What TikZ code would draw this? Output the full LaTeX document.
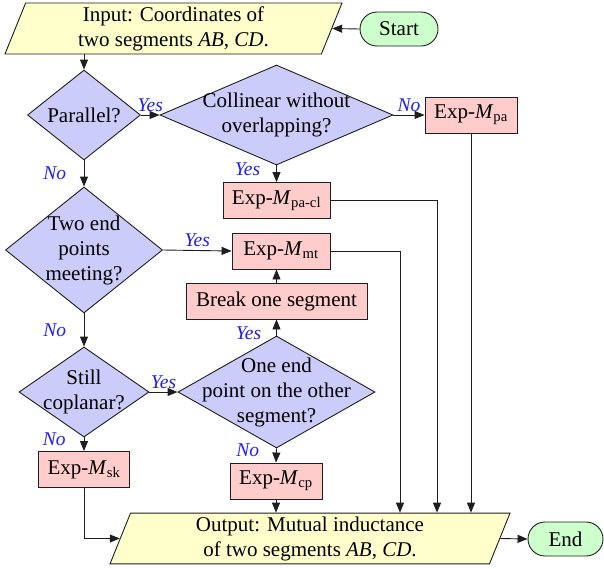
\documentclass[tikz,border=0pt]{standalone}
\usepackage{fontspec}
\setmainfont{Liberation Serif}
\usetikzlibrary{shapes.geometric,arrows.meta,positioning}
\definecolor{decisionfill}{RGB}{204,204,250}
\definecolor{processfill}{RGB}{255,204,204}
\definecolor{iofill}{RGB}{255,255,204}
\definecolor{termfill}{RGB}{204,255,204}
\definecolor{answercolor}{RGB}{30,30,255}
\definecolor{linecolor}{RGB}{30,30,30}
\def \boxheight {36pt}
\def \expM {Exp-\textit{M}}

\begin{document}
\begin{tikzpicture}[x=1pt, y=-1pt,
  font=\fontsize{21}{25}\selectfont,
  line width=0.9pt, draw=linecolor,
  decision/.style={diamond, draw, fill=decisionfill, inner sep=0pt},
  process/.style={rectangle, draw, fill=processfill, minimum height=\boxheight, inner xsep=4pt},
  io/.style={trapezium, trapezium left angle=68, trapezium right angle=112, trapezium stretches body, draw, fill=iofill, align=center, minimum height=49pt},
  terminal/.style={rectangle, rounded corners=17pt, draw, fill=termfill, minimum height=34pt},
  arr/.style={-{Triangle[length=10pt,width=8pt]}},
  answer/.style={font=\fontsize{19.5}{22}\selectfont\itshape, text=answercolor}]
\useasboundingbox (0,0) rectangle (604,568);

% Draw the input and output
\node[io, minimum width=337pt] (input) at (173.5,28.5) {Input: Coordinates of\\two segments \textit{AB}, \textit{CD}.};
\node[terminal, minimum width=78pt] (start) at (399,29) {Start};
\node[io, minimum width=400pt] (output) at (310,538.5) {Output: Mutual inductance\\of two segments \textit{AB}, \textit{CD}.};
\node[terminal, minimum width=75pt] (end) at (565.5,539) {End};

% Draw the questions
\node[decision, minimum width=113pt, minimum height=90pt, label={[align=center]center:Parallel?}] (parallel) at (84,115) {};
\node[decision, minimum width=233pt, minimum height=100pt, label={[align=center]center:Collinear without\\overlapping?}] (collinear) at (276.5,115) {};
\node[decision, minimum width=157pt, minimum height=126pt, label={[align=center]center:Two end\\points\\meeting?}] (meeting) at (84,250) {};
\node[decision, minimum width=130pt, minimum height=90pt, label={[align=center]center:Still\\coplanar?}] (coplanar) at (84,392) {};
\node[decision, minimum width=197pt, minimum height=112pt, label={[align=center]center:One end\\point on the other\\segment?}] (onend) at (276.5,392) {};

% Draw the expressions
\node[process, minimum width=92pt] (mpa) at (471,115) {\expM\textsubscript{pa}};
\node[process, minimum width=107pt] (mpacl) at (276.5,200.5) {\expM\textsubscript{pa-cl}};
\node[process, minimum width=98pt] (mmt) at (281,251) {\expM\textsubscript{mt}};
\node[process, minimum width=181pt] (break) at (276.5,301) {Break one segment};
\node[process, minimum width=92pt] (mcp) at (276,481) {\expM\textsubscript{cp}};
\node[process, minimum width=91pt] (msk) at (84,469.5) {\expM\textsubscript{sk}};

% Draw the arrows
\draw[arr] (start.west) -- (input.east);
\draw[arr] (input.south -| parallel.north) -- (parallel.north);
\draw[arr] (parallel.east) -- node[answer, above] {Yes} (collinear.west);
\draw[arr] (collinear.east) -- node[answer, above] {No} (mpa.west);
\draw[arr] (collinear.south) -- node[answer, left=12.5pt, pos=0.22] {Yes} (mpacl.north);
\draw[arr] (parallel.south) -- node[answer, left=14pt] {No} (meeting.north);
\draw[arr] (meeting.east) -- node[answer, above] {Yes} (mmt.west);
\draw[arr] (meeting.south) -- node[answer, left=14pt] {No} (coplanar.north);
\draw[arr] (coplanar.east) -- node[answer, above] {Yes} (onend.west);
\draw[arr] (onend.north) -- node[answer, left=11.5pt, pos=0.12] {Yes} (break.south);
\draw[arr] (break.north) -- (break.north |- mmt.south);
\draw[arr] (onend.south) -- node[answer, left=13.5pt, pos=0.13] {No} (mcp.north);
\draw[arr] (coplanar.south) -- node[answer, left=14.5pt, pos=0.13] {No} (msk.north);
\draw[arr] (mcp.south) -- (mcp.south |- output.north);
\draw[arr] (msk.south) |- (output.west);
\draw[arr] (output.east) -- (end.west);

% Draw the lines down to the output
\coordinate (downA) at (400,0);
\coordinate (downB) at (437,0);
\draw[arr] (mmt.east) -| (downA |- output.north);
\draw[arr] (mpacl.east) -| (downB |- output.north);
\draw[arr] (mpa.south) -- (mpa.south |- output.north);
\end{tikzpicture}
\end{document}
